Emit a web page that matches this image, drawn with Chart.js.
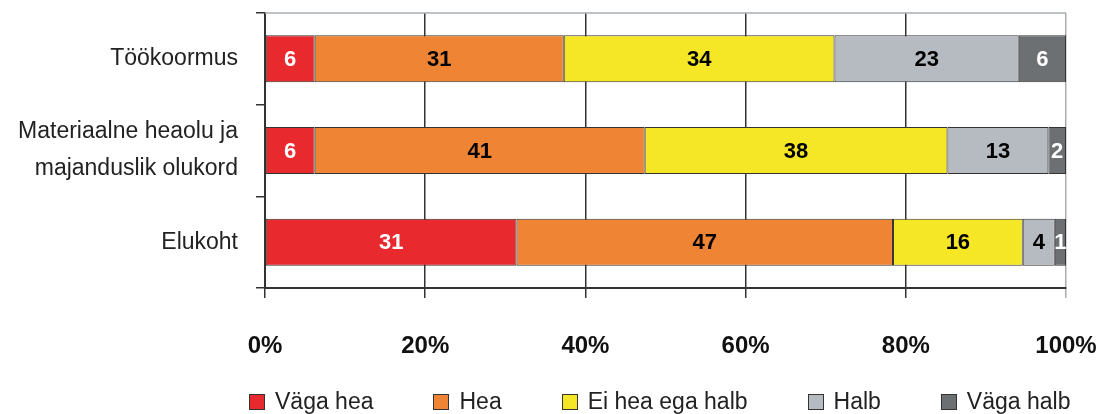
<!DOCTYPE html>
<html>
<head>
<meta charset="utf-8">
<script src="https://cdn.jsdelivr.net/npm/chart.js@4/dist/chart.umd.min.js"></script>
<style>
  html, body { margin: 0; padding: 0; background: #fff; }
  #wrap { position: relative; width: 1101px; height: 414px; }
  #legend { position: absolute; left: 249px; top: 388px; display: flex; align-items: center;
    font-family: "Liberation Sans", Arial, sans-serif; font-size: 23px; color: #222; white-space: nowrap; }
  .li { display: flex; align-items: center; margin-right: 60px; }
  .box { width: 14px; height: 14px; border: 1.5px solid #333; margin-right: 10px; }
</style>
</head>
<body>
<div id="wrap">
  <canvas id="c" width="1101" height="414"></canvas>
  <div id="legend"></div>
</div>
<script>
const categories = ['Töökoormus', ['Materiaalne heaolu ja', 'majanduslik olukord'], 'Elukoht'];
const seriesNames = ['Väga hea', 'Hea', 'Ei hea ega halb', 'Halb', 'Väga halb'];
const vagaHea = [6.2, 6.2, 31.4];
const hea = [31.1, 41.2, 47.0];
const eiHeaEgaHalb = [33.8, 37.8, 16.2];
const halb = [23.0, 12.6, 4.0];
const vagaHalb = [5.9, 2.2, 1.4];
const xTickValues = [0, 20, 40, 60, 80, 100];

const colors = ['#E8292E', '#EE8434', '#F5E726', '#B6BAC1', '#6C7073'];
const labelColors = ['#fff', '#000', '#000', '#000', '#fff'];
const seriesValues = [vagaHea, hea, eiHeaEgaHalb, halb, vagaHalb];
const FONT = '"Liberation Sans", Arial, sans-serif';

const datasets = seriesNames.map((name, i) => ({
  label: name,
  data: seriesValues[i],
  backgroundColor: colors[i],
  borderColor: '#333',
  borderWidth: 1,
  borderSkipped: false,
  barPercentage: 0.513,
  categoryPercentage: 1.0
}));

const valueLabels = {
  id: 'valueLabels',
  afterDatasetsDraw(chart) {
    const ctx = chart.ctx;
    ctx.save();
    ctx.font = 'bold 22px ' + FONT;
    ctx.textAlign = 'center';
    ctx.textBaseline = 'middle';
    chart.data.datasets.forEach((ds, i) => {
      const meta = chart.getDatasetMeta(i);
      meta.data.forEach((bar, j) => {
        const v = ds.data[j];
        ctx.fillStyle = labelColors[i];
        ctx.fillText(String(Math.round(v)), (bar.x + bar.base) / 2, bar.y + 1);
      });
    });
    ctx.restore();
  }
};

const topBorder = {
  id: 'topBorder',
  beforeDatasetsDraw(chart) {
    const { ctx, chartArea } = chart;
    ctx.save();
    ctx.strokeStyle = '#A9ADB2';
    ctx.lineWidth = 1.5;
    ctx.beginPath();
    ctx.moveTo(chartArea.left, chartArea.top);
    ctx.lineTo(chartArea.right, chartArea.top);
    ctx.stroke();
    ctx.restore();
  }
};

new Chart(document.getElementById('c'), {
  type: 'bar',
  data: { labels: categories, datasets },
  options: {
    indexAxis: 'y',
    responsive: false,
    animation: false,
    layout: { padding: { top: 13, right: 35, left: 0, bottom: 0 } },
    plugins: { legend: { display: false }, tooltip: { enabled: false } },
    scales: {
      x: {
        stacked: true,
        min: 0, max: 100,
        afterBuildTicks(scale) { scale.ticks = xTickValues.map(v => ({ value: v })); },
        afterFit(scale) { scale.height = 126; scale.paddingLeft = 0; scale.paddingRight = 0; },
        grid: {
          color: ctx => (ctx.tick && ctx.tick.value === 100) ? '#A9ADB2' : '#333',
          lineWidth: 1.5,
          drawTicks: true,
          tickLength: 10
        },
        border: { color: '#333', width: 2 },
        ticks: {
          padding: 34,
          maxRotation: 0,
          autoSkip: false,
          color: '#111',
          font: { family: FONT, size: 24, weight: 'bold' },
          callback: v => v + '%'
        }
      },
      y: {
        stacked: true,
        afterFit(scale) { scale.width = 265; scale.paddingTop = 0; scale.paddingBottom = 0; },
        grid: {
          offset: true,
          drawOnChartArea: false,
          drawTicks: true,
          tickLength: 9,
          color: '#333',
          lineWidth: 1.5
        },
        border: { color: '#333', width: 2 },
        ticks: {
          padding: 18,
          color: '#222',
          font: { family: FONT, size: 23, lineHeight: 1.6 }
        }
      }
    }
  },
  plugins: [topBorder, valueLabels]
});

const legend = document.getElementById('legend');
seriesNames.forEach((name, i) => {
  const item = document.createElement('div');
  item.className = 'li';
  const box = document.createElement('span');
  box.className = 'box';
  box.style.background = colors[i];
  const txt = document.createElement('span');
  txt.textContent = name;
  item.appendChild(box);
  item.appendChild(txt);
  legend.appendChild(item);
});
</script>
</body>
</html>
